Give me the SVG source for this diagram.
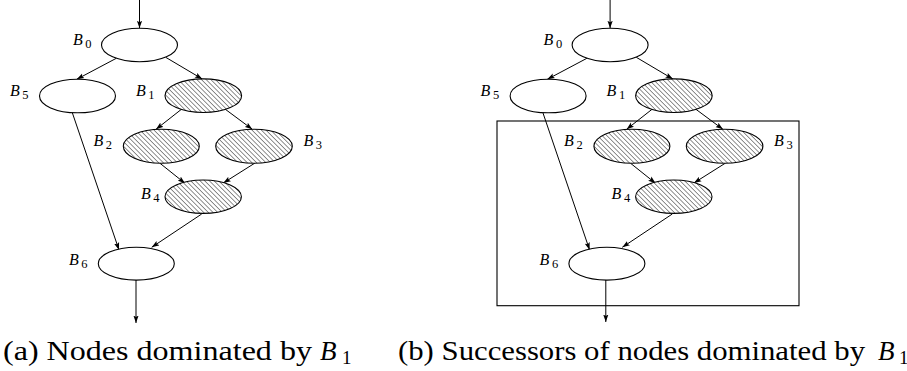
<svg xmlns="http://www.w3.org/2000/svg" width="907" height="371" viewBox="0 0 907 371">
<defs>
<pattern id="hatch" patternUnits="userSpaceOnUse" width="3.3" height="3.3" patternTransform="rotate(-45)">
<rect width="3.3" height="3.3" fill="#fff"/>
<line x1="0" y1="0" x2="0" y2="3.3" stroke="#222" stroke-width="1"/>
</pattern>
<marker id="arr" markerWidth="8" markerHeight="6" refX="7.5" refY="3" orient="auto" markerUnits="userSpaceOnUse">
<path d="M0,0.4 L7.5,3 L0,5.6 L1.5,3 Z" fill="#000"/>
</marker>
</defs>
<style>
.n{fill:#fff;stroke:#000;stroke-width:1.1}
.h{fill:url(#hatch);stroke:#000;stroke-width:1.1}
.e{stroke:#000;stroke-width:1;fill:none;marker-end:url(#arr)}
.l{font-family:"Liberation Serif","DejaVu Serif",serif;font-style:italic;font-size:16px}
.s{font-style:normal;font-size:12.5px}
.c{font-family:"Liberation Serif","DejaVu Serif",serif;font-size:27px}
.ci{font-family:"Liberation Serif","DejaVu Serif",serif;font-size:27px;font-style:italic}
.ci2{font-family:"Liberation Serif","DejaVu Serif",serif;font-size:19px}
</style>
<g id="connectors-a">
<line class="e" x1="139.5" y1="0" x2="139.5" y2="28.3"/>
<line class="e" x1="116.3" y1="58.3" x2="76.7" y2="79.3"/>
<line class="e" x1="165.7" y1="57.3" x2="202.3" y2="79"/>
<line class="e" x1="182.7" y1="108.3" x2="156" y2="129.3"/>
<line class="e" x1="224" y1="108.3" x2="252.3" y2="129.3"/>
<line class="e" x1="160" y1="163.3" x2="185" y2="183.3"/>
<line class="e" x1="255" y1="163" x2="223.3" y2="183"/>
<line class="e" x1="201.7" y1="214" x2="151.7" y2="247.3"/>
<line class="e" x1="72.3" y1="112.7" x2="119" y2="250"/>
<line class="e" x1="136" y1="280" x2="136" y2="323"/>
</g>
<g id="a-B0"><ellipse class="n" cx="139.5" cy="45" rx="38" ry="16.7"/><text class="l" x="73" y="45">B<tspan class="s" dx="2.5" dy="2.7">0</tspan></text></g>
<g id="a-B5"><ellipse class="n" cx="77.5" cy="96" rx="38" ry="16.8"/><text class="l" x="10" y="96">B<tspan class="s" dx="2.5" dy="2.7">5</tspan></text></g>
<g id="a-B1"><ellipse class="h" cx="203.3" cy="95.7" rx="38.3" ry="16.8"/><text class="l" x="136" y="96">B<tspan class="s" dx="2.5" dy="2.7">1</tspan></text></g>
<g id="a-B2"><ellipse class="h" cx="161.3" cy="146.3" rx="38" ry="17"/><text class="l" x="93.5" y="146">B<tspan class="s" dx="2.5" dy="2.7">2</tspan></text></g>
<g id="a-B3"><ellipse class="h" cx="254" cy="146.3" rx="38.3" ry="17"/><text class="l" x="303.5" y="146">B<tspan class="s" dx="2.5" dy="2.7">3</tspan></text></g>
<g id="a-B4"><ellipse class="h" cx="203.2" cy="196.7" rx="38.2" ry="16.7"/><text class="l" x="141" y="199">B<tspan class="s" dx="2.5" dy="2.7">4</tspan></text></g>
<g id="a-B6"><ellipse class="n" cx="136.3" cy="263.7" rx="38" ry="16.4"/><text class="l" x="69" y="265">B<tspan class="s" dx="2.5" dy="2.7">6</tspan></text></g>
<text class="c" x="3" y="360" textLength="309" lengthAdjust="spacingAndGlyphs">(a) Nodes dominated by</text>
<text class="ci" x="320" y="360">B</text><text class="ci2" x="342" y="364">1</text>

<g id="box-b"><rect x="497" y="121" width="302" height="184.7" fill="none" stroke="#000" stroke-width="1.1"/></g>
<g id="connectors-b" transform="translate(470.6,0)">
<line class="e" x1="139.5" y1="0" x2="139.5" y2="28.3"/>
<line class="e" x1="116.3" y1="58.3" x2="76.7" y2="79.3"/>
<line class="e" x1="165.7" y1="57.3" x2="202.3" y2="79"/>
<line class="e" x1="182.7" y1="108.3" x2="156" y2="129.3"/>
<line class="e" x1="224" y1="108.3" x2="252.3" y2="129.3"/>
<line class="e" x1="160" y1="163.3" x2="185" y2="183.3"/>
<line class="e" x1="255" y1="163" x2="223.3" y2="183"/>
<line class="e" x1="201.7" y1="214" x2="151.7" y2="247.3"/>
<line class="e" x1="72.3" y1="112.7" x2="119" y2="250"/>
<line class="e" x1="135.2" y1="280" x2="135.2" y2="322"/>
</g>
<g transform="translate(470.6,0)">
<g id="b-B0"><ellipse class="n" cx="139.5" cy="45" rx="38" ry="16.7"/><text class="l" x="73" y="45">B<tspan class="s" dx="2.5" dy="2.7">0</tspan></text></g>
<g id="b-B5"><ellipse class="n" cx="77.5" cy="96" rx="38" ry="16.8"/><text class="l" x="10" y="96">B<tspan class="s" dx="2.5" dy="2.7">5</tspan></text></g>
<g id="b-B1"><ellipse class="h" cx="203.3" cy="95.7" rx="38.3" ry="16.8"/><text class="l" x="136" y="96">B<tspan class="s" dx="2.5" dy="2.7">1</tspan></text></g>
<g id="b-B2"><ellipse class="h" cx="161.3" cy="146.3" rx="38" ry="17"/><text class="l" x="93.5" y="146">B<tspan class="s" dx="2.5" dy="2.7">2</tspan></text></g>
<g id="b-B3"><ellipse class="h" cx="254" cy="146.3" rx="38.3" ry="17"/><text class="l" x="303.5" y="146">B<tspan class="s" dx="2.5" dy="2.7">3</tspan></text></g>
<g id="b-B4"><ellipse class="h" cx="203.2" cy="196.7" rx="38.2" ry="16.7"/><text class="l" x="141" y="199">B<tspan class="s" dx="2.5" dy="2.7">4</tspan></text></g>
<g id="b-B6"><ellipse class="n" cx="136.3" cy="263.7" rx="38" ry="16.4"/><text class="l" x="69" y="265">B<tspan class="s" dx="2.5" dy="2.7">6</tspan></text></g>
</g>
<text class="c" x="398" y="360" textLength="467" lengthAdjust="spacingAndGlyphs">(b) Successors of nodes dominated by</text>
<text class="ci" x="878" y="360">B</text><text class="ci2" x="899" y="364">1</text>
</svg>
